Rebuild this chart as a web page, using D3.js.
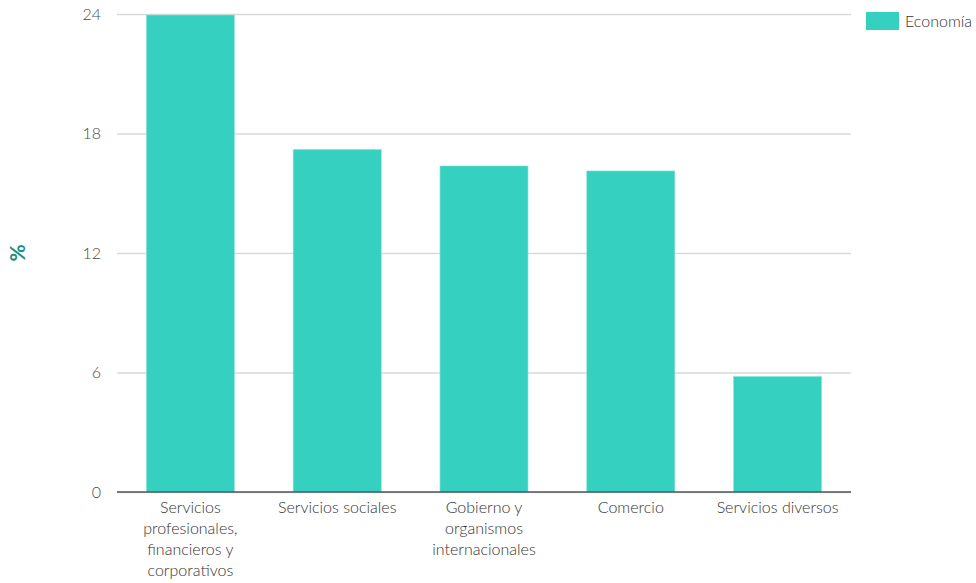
<!DOCTYPE html>
<html>
<head>
<meta charset="utf-8">
<script src="https://cdn.jsdelivr.net/npm/d3@7"></script>
<style>
  body { margin: 0; background: #fff; }
  text { font-family: Lato, "Open Sans", sans-serif; }
</style>
</head>
<body>
<script>
// chart data
const categories = [
  ["Servicios", "profesionales,", "financieros y", "corporativos"],
  ["Servicios sociales"],
  ["Gobierno y", "organismos", "internacionales"],
  ["Comercio"],
  ["Servicios diversos"]
];
const values = [23.95, 17.2, 16.37, 16.12, 5.8];
const yTicks = [0, 6, 12, 18, 24];
const seriesName = "Economía";

const width = 976, height = 583;
const margin = { top: 14, right: 125, bottom: 91, left: 117 };
const innerW = width - margin.left - margin.right;
const innerH = height - margin.top - margin.bottom;

let svg = d3.select("body").append("svg")
    .attr("width", width)
    .attr("height", height);

let g = svg.append("g").attr("transform", `translate(${margin.left},${margin.top})`);

const x = d3.scaleBand()
    .domain(d3.range(categories.length))
    .range([0, innerW])
    .paddingInner(0.4)
    .paddingOuter(0.2);

const y = d3.scaleLinear().domain([0, 24]).range([innerH, 0]);

// gridlines + y labels
g.append("g")
    .call(d3.axisLeft(y).tickValues(yTicks).tickSize(-innerW).tickPadding(16))
    .call(a => a.select(".domain").remove())
    .call(a => a.selectAll("line").attr("stroke", "#d9d9d9").attr("stroke-width", 1.5))
    .call(a => a.selectAll("text").attr("fill", "#4a4a4a").attr("font-size", 16).attr("font-weight", 300));

// bars
g.selectAll(".bar")
    .data(values)
    .enter()
    .append("rect")
    .attr("x", (d, i) => x(i))
    .attr("y", d => y(d))
    .attr("width", x.bandwidth())
    .attr("height", d => innerH - y(d))
    .attr("fill", "#36d0c0")
    .attr("stroke", "#8fe3da")
    .attr("stroke-width", 0.6);

// x axis line
g.append("line")
    .attr("x1", 0).attr("x2", innerW)
    .attr("y1", innerH).attr("y2", innerH)
    .attr("stroke", "#555").attr("stroke-width", 1.5);

// x labels (wrapped)
let xl = g.append("g");
categories.forEach((lines, i) => {
  let t = xl.append("text")
      .attr("x", x(i) + x.bandwidth() / 2)
      .attr("y", innerH + 21)
      .attr("text-anchor", "middle")
      .attr("fill", "#333")
      .attr("font-size", 16)
      .attr("font-weight", 300);
  lines.forEach((l, j) => {
    t.append("tspan")
        .attr("x", x(i) + x.bandwidth() / 2)
        .attr("dy", j === 0 ? 0 : 21)
        .text(l);
  });
});

// y axis title
svg.append("text")
    .attr("transform", `translate(25,${margin.top + innerH / 2}) rotate(-90)`)
    .attr("text-anchor", "middle")
    .attr("fill", "#1a8f80")
    .attr("font-size", 21)
    .attr("font-weight", 700)
    .text("%");

// legend
let lg = svg.append("g").attr("transform", "translate(866,12)");
lg.append("rect").attr("width", 33).attr("height", 18).attr("fill", "#36d0c0");
lg.append("text")
    .attr("x", 39).attr("y", 15)
    .attr("fill", "#333")
    .attr("font-size", 16)
    .attr("font-weight", 300)
    .text(seriesName);
</script>
</body>
</html>
